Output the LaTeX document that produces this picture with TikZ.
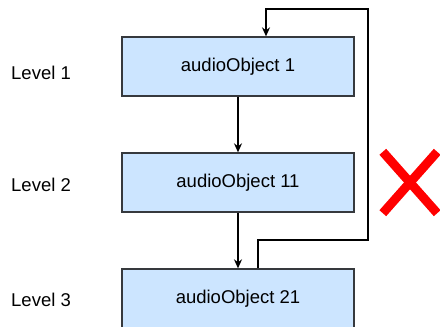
\documentclass[tikz,border=0pt]{standalone}
\usepackage{fontspec}
\setmainfont{Liberation Sans}
\usepackage{tikz}
\usetikzlibrary{positioning,arrows.meta}
\definecolor{objfill}{HTML}{CCE5FF}
\definecolor{objline}{HTML}{36393D}

\begin{document}
\begin{tikzpicture}[x=1pt,y=1pt,node distance=116pt,on grid,
  every node/.style={font=\fontsize{18.5}{22}\selectfont},
  object/.style={rectangle,draw=objline,line width=1.3pt,fill=objfill,
    minimum width=232pt,minimum height=59pt,inner sep=0pt},
  level/.style={anchor=west,inner sep=0pt},
  >={Stealth[length=9pt,width=8pt]}]
  \useasboundingbox (0,0) rectangle (440,327);
  \node[object] (ao_1) at (238,260.5) {audioObject 1};
  \node[object] (ao_11) [below=of ao_1] {audioObject 11};
  \node[object] (ao_21) [below=of ao_11] {audioObject 21};
  \node[level] (lvl_1) at (11,254) {Level 1};
  \node[level] (lvl_2) at (11,142) {Level 2};
  \node[level] (lvl_3) at (11,27) {Level 3};
  \draw[->,line width=1.3pt]
  (ao_1) -- (ao_11);
  \draw[->,line width=1.3pt]
  (ao_11) -- (ao_21);
  \coordinate (loop_low) at (368,87);
  \coordinate (loop_high) at (368,318);
  \draw[->,line width=1.3pt]
  ([xshift=20pt]ao_21.north) |- (loop_low) -- (loop_high)
  -| ([xshift=28pt]ao_1.north);
  \node[minimum width=54pt,minimum height=61pt,inner sep=0pt] (cross) at (410,144.5) {};
  \draw[red,line width=9pt]
  (cross.north west) -- (cross.south east)
  (cross.north east) -- (cross.south west);
\end{tikzpicture}
\end{document}
